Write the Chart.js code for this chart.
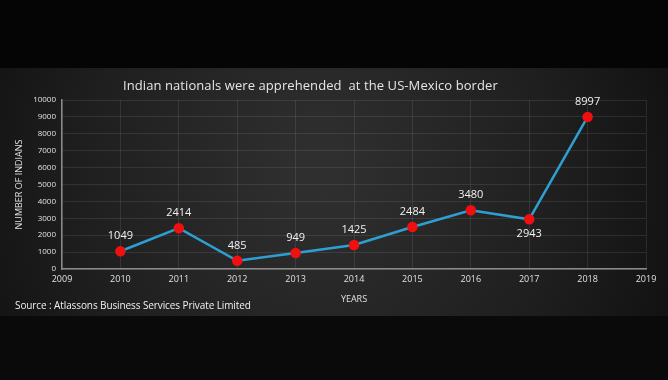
<!DOCTYPE html>
<html>
<head>
<meta charset="utf-8">
<script src="https://cdn.jsdelivr.net/npm/chart.js@4/dist/chart.umd.min.js"></script>
<style>
  html, body { margin: 0; padding: 0; background: #070707; }
  #wrap { width: 668px; height: 380px; position: relative; }
</style>
</head>
<body>
<div id="wrap"><canvas id="chart"></canvas></div>
<script>
// --- data ---
const years = [2010, 2011, 2012, 2013, 2014, 2015, 2016, 2017, 2018];
const apprehended = [1049, 2414, 485, 949, 1425, 2484, 3480, 2943, 8997];
const labelsBelow = [2017]; // labels drawn under the point
const titleText = 'Indian nationals were apprehended  at the US-Mexico border';
const sourceText = 'Source : Atlassons Business Services Private Limited';

const points = years.map((y, i) => ({ x: y, y: apprehended[i] }));

// background panel + texts + value labels
const decor = {
    id: 'decor',
    beforeDraw(chart) {
        const ctx = chart.ctx;
        ctx.save();
        ctx.fillStyle = '#050505';
        ctx.fillRect(0, 0, 668, 380);
        ctx.fillStyle = '#0a0a0a';
        ctx.fillRect(0, 316, 668, 64);
        const g = ctx.createRadialGradient(320, 170, 20, 320, 190, 380);
        g.addColorStop(0, '#2f2f2f');
        g.addColorStop(0.6, '#1f1f1f');
        g.addColorStop(1, '#111111');
        ctx.fillStyle = g;
        ctx.fillRect(0, 68, 668, 248);
        ctx.restore();
    },
    afterDraw(chart) {
        const ctx = chart.ctx;
        ctx.save();
        // title
        ctx.font = '13px "Open Sans", sans-serif';
        ctx.fillStyle = '#e6e6e6';
        ctx.textBaseline = 'middle';
        ctx.textAlign = 'left';
        const w = ctx.measureText(titleText).width;
        ctx.letterSpacing = ((375 - w) / (titleText.length - 1)).toFixed(2) + 'px';
        ctx.fillText(titleText, 123, 86);
        ctx.letterSpacing = '0px';
        // source
        ctx.font = '10px "Open Sans", sans-serif';
        ctx.fillStyle = '#f0f0f0';
        const sw = ctx.measureText(sourceText).width;
        ctx.letterSpacing = ((236 - sw) / (sourceText.length - 1)).toFixed(2) + 'px';
        ctx.fillText(sourceText, 15, 306);
        ctx.letterSpacing = '0px';
        // value labels
        const meta = chart.getDatasetMeta(0);
        ctx.font = '11px "Open Sans", sans-serif';
        ctx.textAlign = 'center';
        meta.data.forEach((pt, i) => {
            const below = labelsBelow.includes(years[i]);
            ctx.fillStyle = '#f2f2f2';
            ctx.fillText(String(apprehended[i]), pt.x, below ? pt.y + 15 : pt.y - 15);
        });
        ctx.restore();
    }
};

new Chart(document.getElementById('chart'), {
    type: 'line',
    data: {
        datasets: [{
            data: points,
            borderColor: '#2e9fd3',
            borderWidth: 2.5,
            pointBackgroundColor: '#f01010',
            pointBorderColor: '#f01010',
            pointRadius: 4,
            tension: 0
        }]
    },
    options: {
        responsive: true,
        maintainAspectRatio: false,
        animation: false,
        layout: { padding: { top: 100, right: 22, bottom: 71, left: 0 } },
        plugins: {
            legend: { display: false },
            tooltip: { enabled: false }
        },
        scales: {
            x: {
                type: 'linear',
                min: 2009,
                max: 2019,
                ticks: {
                    stepSize: 1,
                    color: '#e0e0e0',
                    font: { size: 9, family: '"Open Sans", sans-serif' },
                    padding: 5,
                    callback: v => String(v)
                },
                grid: { color: 'rgba(255,255,255,0.09)', drawTicks: false },
                border: { color: '#8a8a8a', width: 1.5 },
                title: {
                    display: true,
                    text: 'YEARS',
                    color: '#e0e0e0',
                    font: { size: 9, family: '"Open Sans", sans-serif' },
                    padding: { top: 2 }
                },
                afterFit(scale) { scale.height = 40; }
            },
            y: {
                min: 0,
                max: 10000,
                ticks: {
                    stepSize: 1000,
                    color: '#e0e0e0',
                    font: { size: 8, family: '"Open Sans", sans-serif' },
                    padding: 6,
                    callback: v => String(v)
                },
                grid: { color: 'rgba(255,255,255,0.09)', drawTicks: false },
                border: { color: '#8a8a8a', width: 1.5 },
                title: {
                    display: true,
                    text: 'NUMBER OF INDIANS',
                    color: '#e0e0e0',
                    font: { size: 9, family: '"Open Sans", sans-serif' },
                    padding: { top: 14, bottom: 0 }
                },
                afterFit(scale) { scale.width = 62; }
            }
        }
    },
    plugins: [decor]
});
</script>
</body>
</html>
